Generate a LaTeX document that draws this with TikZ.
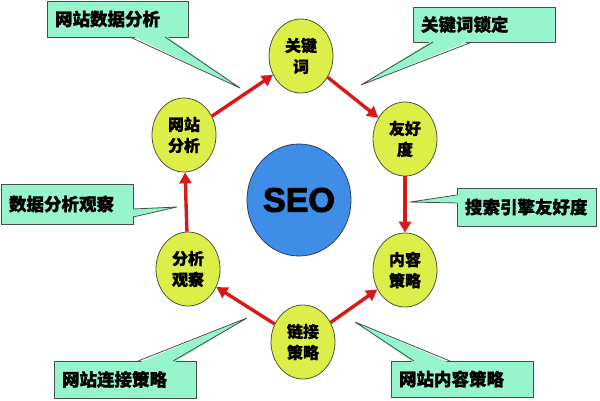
\documentclass[tikz,border=0pt]{standalone}
\usepackage{fontspec}
\setmainfont{Liberation Sans}
\newfontfamily\seofont{Liberation Sans}[BoldFeatures={FakeBold=3}]
\newfontfamily\cjk{Noto Sans CJK SC}[BoldFeatures={FakeBold=1}]
\usetikzlibrary{shapes.geometric,arrows.meta,calc}
\definecolor{nodefill}{RGB}{220,238,72}
\definecolor{nodeline}{RGB}{80,85,60}
\definecolor{boxfill}{RGB}{150,245,205}
\definecolor{boxline}{RGB}{70,80,75}
\definecolor{seofill}{RGB}{62,142,232}
\definecolor{seoline}{RGB}{45,60,100}
\definecolor{arrowred}{RGB}{215,25,25}
\tikzset{
  stage/.style={ellipse, draw=nodeline, line width=0.8pt, fill=nodefill,
    minimum width=64pt, minimum height=74pt, inner sep=0pt, align=center,
    font=\cjk\bfseries\fontsize{16pt}{21pt}\selectfont},
  callout/.style={rectangle, draw=boxline, line width=0.8pt, fill=boxfill,
    inner xsep=8pt, inner ysep=0pt, align=left,
    font=\cjk\bfseries\fontsize{17.5pt}{20pt}\selectfont},
  flow/.style={draw=arrowred, line width=3.4pt,
    -{Triangle[length=11pt,width=12pt]}},
  ptrfill/.style={fill=boxfill},
  ptrline/.style={draw=boxline, line width=0.8pt, line join=miter},
}
\begin{document}
\begin{tikzpicture}[x=1pt,y=-1pt]
\useasboundingbox (0,0) rectangle (600,400);
\fill[white] (0,0) rectangle (600,400);

% centre
\node[ellipse, draw=seoline, line width=0.8pt, fill=seofill,
  minimum width=104pt, minimum height=112pt, inner sep=0pt,
  font=\seofont\bfseries\fontsize{34pt}{34pt}\selectfont] (seo) at (299,200) {SEO};

% stages
\node[stage] (kw)  at (301,56)  {关键\\词};
\node[stage] (wa)  at (184,135) {网站\\分析};
\node[stage] (yh)  at (405,139) {友好\\度};
\node[stage] (fx)  at (188,269) {分析\\观察};
\node[stage] (nr)  at (405,270) {内容\\策略};
\node[stage] (lj)  at (303,342) {链接\\策略};

% arrows
\draw[flow] (wa) -- (kw);
\draw[flow] (kw) -- (yh);
\draw[flow] (yh) -- (nr);
\draw[flow] (lj) -- (nr);
\draw[flow] (lj) -- (fx);
\draw[flow] (fx) -- (wa);

% callout boxes
\node[callout, text width=125pt, minimum height=36pt] (b1) at (117.5,19) {网站数据分析};
\node[callout, text width=126pt, minimum height=35pt] (b2) at (484,24.5) {关键词锁定};
\node[callout, text width=116pt, minimum height=40pt] (b3) at (67,204) {数据分析观察};
\node[callout, text width=123pt, minimum height=38pt] (b4) at (526.5,207) {搜索引擎友好度};
\node[callout, text width=126pt, minimum height=37pt] (b5) at (125,379.5) {网站连接策略};
\node[callout, text width=126pt, minimum height=36pt] (b6) at (462,379) {网站内容策略};

% pointer tips
\coordinate (t1) at (240,88);
\coordinate (t2) at (361,85);
\coordinate (t3) at (177,207);
\coordinate (t4) at (410,202);
\coordinate (t5) at (247,318);
\coordinate (t6) at (355,322);

% pointers
\fill[ptrfill] (130,35) -- (t1) -- (165,35) -- cycle;
\draw[ptrline] (130,37) -- (t1) -- (165,37);
\fill[ptrfill] (433,40) -- (t2) -- (472,40) -- cycle;
\draw[ptrline] (433,42) -- (t2) -- (472,42);
\fill[ptrfill] (131,209) -- (t3) -- (131,217) -- cycle;
\draw[ptrline] (133,209) -- (t3) -- (133,217);
\fill[ptrfill] (459,195) -- (t4) -- (459,203) -- cycle;
\draw[ptrline] (457,195) -- (t4) -- (457,203);
\fill[ptrfill] (138,363) -- (t5) -- (173,363) -- cycle;
\draw[ptrline] (138,361) -- (t5) -- (173,361);
\fill[ptrfill] (414,363) -- (t6) -- (450,363) -- cycle;
\draw[ptrline] (414,361) -- (t6) -- (450,361);
\end{tikzpicture}
\end{document}
